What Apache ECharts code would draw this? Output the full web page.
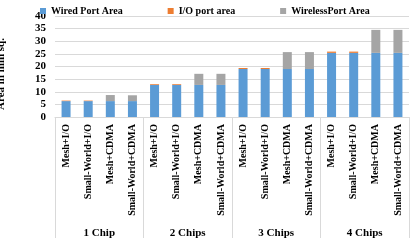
<!DOCTYPE html>
<html>
<head>
<meta charset="UTF-8">
<title>Port area</title>
<script src="https://cdn.jsdelivr.net/npm/echarts@6/dist/echarts.min.js"></script>
<style>
  html, body { margin: 0; padding: 0; background: #fff; }
  #chart { width: 412px; height: 251px; }
</style>
</head>
<body>
<div id="chart"></div>
<script>
var configs = ['Mesh+I/O', 'Small-World+I/O', 'Mesh+CDMA', 'Small-World+CDMA'];
var groups = ['1 Chip', '2 Chips', '3 Chips', '4 Chips'];
var yTicks = [0, 5, 10, 15, 20, 25, 30, 35, 40];
var wired = [6.3, 6.3, 6.3, 6.3, 12.7, 12.7, 12.7, 12.7, 19.0, 19.0, 19.0, 19.0, 25.4, 25.4, 25.4, 25.4];
var ioPort = [0.2, 0.2, 0, 0, 0.3, 0.3, 0, 0, 0.4, 0.4, 0, 0, 0.5, 0.5, 0, 0];
var wireless = [0, 0, 2.4, 2.3, 0, 0, 4.4, 4.4, 0, 0, 6.7, 6.7, 0, 0, 9.1, 9.1];

// one category per bar, suffixed so names stay unique
var cats = [];
groups.forEach(function (g, gi) {
  configs.forEach(function (c) { cats.push(c + '#' + gi); });
});

var font = 'Liberation Serif';
var myChart = echarts.init(document.getElementById('chart'));
var option = {
  animation: false,
  color: ['#5b9bd5', '#ed7d31', '#a5a5a5'],
  legend: {
    top: 1,
    left: 35,
    itemWidth: 6,
    itemHeight: 6,
    itemGap: 45,
    icon: 'rect',
    textStyle: { fontFamily: font, fontWeight: 'bold', fontSize: 10, color: '#000' }
  },
  grid: { left: 55, right: 3, top: 16, bottom: 134 },
  graphic: [{
    type: 'text',
    x: 1,
    y: 74,
    rotation: Math.PI / 2,
    style: {
      text: 'Area in mm sq.',
      fontFamily: font, fontWeight: 'bold', fontSize: 11, fill: '#000',
      textAlign: 'center', textVerticalAlign: 'middle'
    }
  }],
  xAxis: [{
    type: 'category',
    data: cats,
    axisLine: { lineStyle: { color: '#d9d9d9' } },
    axisTick: { show: false },
    axisLabel: {
      interval: 0,
      rotate: 90,
      margin: 7,
      fontFamily: font, fontWeight: 'bold', fontSize: 10, color: '#000',
      formatter: function (v) { return v.split('#')[0]; }
    }
  }, {
    type: 'category',
    data: groups,
    position: 'bottom',
    axisLine: { show: false },
    axisTick: { show: true, length: 121, lineStyle: { color: '#d9d9d9' } },
    axisLabel: {
      margin: 111,
      fontFamily: font, fontWeight: 'bold', fontSize: 11, color: '#000'
    }
  }],
  yAxis: {
    type: 'value',
    min: yTicks[0],
    max: yTicks[yTicks.length - 1],
    interval: 5,
    axisLine: { show: false },
    axisTick: { show: false },
    splitLine: { lineStyle: { color: '#d9d9d9' } },
    axisLabel: { margin: 9, fontFamily: font, fontWeight: 'bold', fontSize: 11, color: '#000' }
  },
  series: [{
    name: 'Wired Port Area',
    type: 'bar',
    stack: 'total',
    barWidth: 9,
    data: wired
  }, {
    name: 'I/O port area',
    type: 'bar',
    stack: 'total',
    barWidth: 9,
    data: ioPort
  }, {
    name: 'WirelessPort Area',
    type: 'bar',
    stack: 'total',
    barWidth: 9,
    data: wireless
  }]
};
myChart.setOption(option);
</script>
</body>
</html>
